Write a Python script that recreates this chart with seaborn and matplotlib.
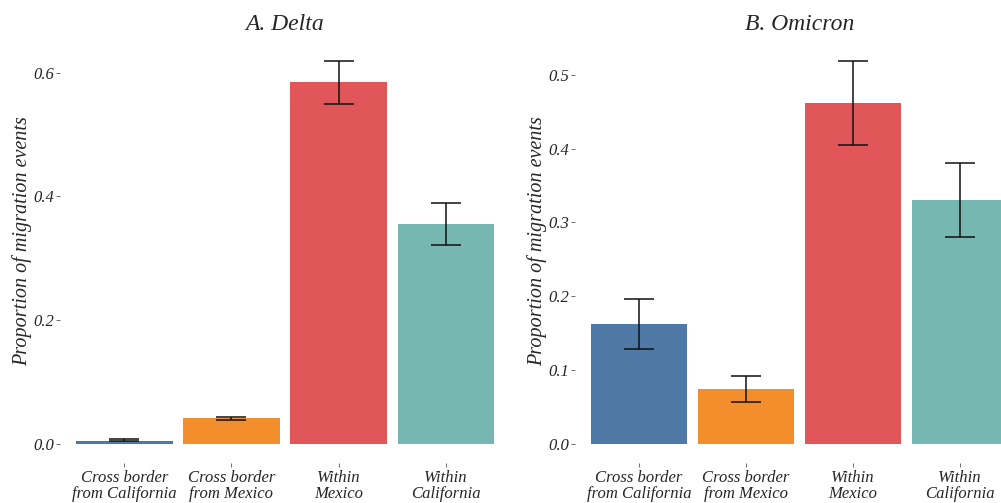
import matplotlib
matplotlib.use('Agg')
import matplotlib.pyplot as plt
import seaborn as sns
import pandas as pd

categories = ['Cross border\nfrom California', 'Cross border\nfrom Mexico', 'Within\nMexico', 'Within\nCalifornia']
colors = ['#4E79A7', '#F28E2B', '#E15759', '#76B7B2']

delta_mean = [0.005, 0.041, 0.584, 0.355]
delta_low = [0.004, 0.038, 0.549, 0.321]
delta_high = [0.007, 0.044, 0.619, 0.389]

omicron_mean = [0.162, 0.074, 0.462, 0.331]
omicron_low = [0.128, 0.057, 0.405, 0.280]
omicron_high = [0.196, 0.092, 0.519, 0.381]

sns.set_theme(style='white')
plt.rcParams['font.family'] = ['Liberation Serif', 'DejaVu Serif']
plt.rcParams['font.style'] = 'italic'

fig = plt.figure(figsize=(10.01, 5.03), dpi=100)
ax1 = fig.add_axes([0.060, 0.0795, 0.4495, 0.839])
ax2 = fig.add_axes([0.5744, 0.0795, 0.4486, 0.839])

panels = [
    (ax1, 'A. Delta', delta_mean, delta_low, delta_high, (-0.031, 0.651), [0, 0.2, 0.4, 0.6]),
    (ax2, 'B. Omicron', omicron_mean, omicron_low, omicron_high, (-0.026, 0.546), [0, 0.1, 0.2, 0.3, 0.4, 0.5]),
]

for ax, title, mean, low, high, ylim, yticks in panels:
    df = pd.DataFrame({'cat': categories, 'val': mean})
    sns.barplot(data=df, x='cat', y='val', hue='cat', palette=colors, width=0.9,
                legend=False, ax=ax, saturation=1, edgecolor='none')
    yerr = [[m - l for m, l in zip(mean, low)], [h - m for m, h in zip(mean, high)]]
    ax.errorbar(range(len(categories)), mean, yerr=yerr, fmt='none', ecolor='#111111',
                elinewidth=1.1, capsize=11, capthick=1.1)
    ax.set_xlim(-0.6, 3.6)
    ax.set_ylim(*ylim)
    ax.set_yticks(yticks)
    ax.set_yticklabels([f'{t:.1f}' for t in yticks], fontsize=12)
    ax.set_xticks(range(len(categories)))
    ax.set_xticklabels(categories, fontsize=12, linespacing=1.0)
    ax.set_xlabel('')
    ax.set_ylabel('Proportion of migration events', fontsize=14.5)
    ax.yaxis.set_label_coords(-0.062, 0.525)
    ax.set_title(title, fontsize=17, pad=8)
    ax.tick_params(axis='both', bottom=True, left=True, length=3, width=0.6,
                   color='#555555', pad=1, direction='out')
    ax.tick_params(axis='x', pad=2)
    for s in ax.spines.values():
        s.set_visible(False)
    ax.grid(False)

fig.savefig('out.png', dpi=100)
